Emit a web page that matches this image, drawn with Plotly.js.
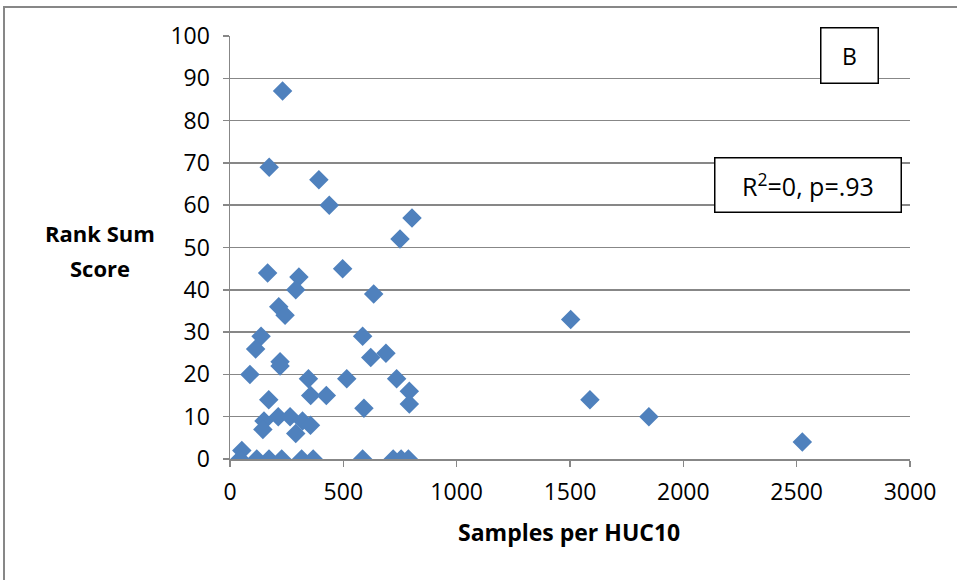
<!DOCTYPE html>
<html>
<head>
<meta charset="utf-8">
<script src="https://cdn.plot.ly/plotly-3.0.1.min.js"></script>
<style>html,body{margin:0;padding:0;background:#fff;}#chart{width:957px;height:580px;}</style>
</head>
<body>
<div id="chart"></div>
<script>
// Samples per HUC10 (x) and Rank Sum Score (y)
const samples = [232, 173, 392, 438, 803, 750, 166, 304, 497, 290, 634, 215, 243, 137, 113, 585, 621, 688, 221, 221, 88, 346, 515, 735, 791, 791, 356, 425, 171, 591,
  150, 213, 265, 320, 355, 145, 290,
  52, 44, 118, 172, 228, 316, 367, 585, 720, 755, 787,
  1503, 1588, 1848, 2525];
const scores = [87, 69, 66, 60, 57, 52, 44, 43, 45, 40, 39, 36, 34, 29, 26, 29, 24, 25, 23, 22, 20, 19, 19, 19, 16, 13, 15, 15, 14, 12,
  9, 10, 10, 9, 8, 7, 6,
  2, 0, 0, 0, 0, 0, 0, 0, 0, 0, 0,
  33, 14, 10, 4];
const xTicks = [0, 500, 1000, 1500, 2000, 2500, 3000];
const yTicks = [0, 10, 20, 30, 40, 50, 60, 70, 80, 90, 100];

const fontFam = '"Open Sans", "Noto Sans", sans-serif';
const grid = '#878787';

// pixel -> paper helpers for the plot area (x 230..910, y 36..459)
const px = v => (v - 230) / 680;
const py = v => (459 - v) / 423;

const trace = {
  x: samples, y: scores, type: 'scatter', mode: 'markers',
  marker: {symbol: 'diamond', size: 15, color: '#4F81BD', line: {width: 0}},
  hoverinfo: 'x+y'
};

const layout = {
  width: 957, height: 580,
  margin: {l: 230, r: 47, t: 36, b: 121},
  paper_bgcolor: '#fff', plot_bgcolor: '#fff',
  showlegend: false,
  font: {family: fontFam, size: 23, color: '#000'},
  xaxis: {
    range: [0, 3000], tickvals: xTicks, ticktext: xTicks.map(String),
    showgrid: false, zeroline: false, showline: true, linecolor: grid, linewidth: 1.5,
    ticks: 'outside', ticklen: 6, tickcolor: grid, tickwidth: 1.5,
    ticklabelstandoff: 6,
    tickfont: {family: fontFam, size: 23, color: '#000'}
  },
  yaxis: {
    range: [0, 100], tickvals: yTicks, ticktext: yTicks.map(String),
    showgrid: true, gridcolor: grid, gridwidth: 1.5, zeroline: false,
    showline: true, linecolor: grid, linewidth: 1.5,
    ticks: 'outside', ticklen: 6, tickcolor: grid, tickwidth: 1.5,
    ticklabelstandoff: 8,
    tickfont: {family: fontFam, size: 23, color: '#000'}
  },
  shapes: [
    {type: 'path', xref: 'paper', yref: 'paper', layer: 'below',
     path: `M ${px(4)} ${py(600)} L ${px(4)} ${py(7)} L ${px(980)} ${py(7)}`,
     line: {color: grid, width: 2}}
  ],
  annotations: [
    {xref: 'paper', yref: 'paper', x: px(569), y: py(532), xanchor: 'center', yanchor: 'middle',
     text: '<b>Samples per HUC10</b>', showarrow: false,
     font: {family: fontFam, size: 23, color: '#000'}},
    {xref: 'paper', yref: 'paper', x: px(100), y: py(233), xanchor: 'center', yanchor: 'middle',
     text: '<b>Rank Sum</b>', showarrow: false,
     font: {family: fontFam, size: 22, color: '#000'}},
    {xref: 'paper', yref: 'paper', x: px(100), y: py(268), xanchor: 'center', yanchor: 'middle',
     text: '<b>Score</b>', showarrow: false,
     font: {family: fontFam, size: 22, color: '#000'}},
    {xref: 'paper', yref: 'paper', x: px(849), y: py(56), xanchor: 'center', yanchor: 'middle',
     text: 'B', showarrow: false, width: 56, height: 54, bgcolor: '#fff',
     bordercolor: '#000', borderwidth: 1.5, borderpad: 0,
     font: {family: fontFam, size: 23, color: '#000'}},
    {xref: 'paper', yref: 'paper', x: px(808), y: py(185), xanchor: 'center', yanchor: 'middle',
     text: 'R<sup>2</sup>=0, p=.93', showarrow: false, width: 185, height: 53, bgcolor: '#fff',
     bordercolor: '#000', borderwidth: 1.5, borderpad: 0,
     font: {family: fontFam, size: 25, color: '#000'}}
  ]
};

Plotly.newPlot('chart', [trace], layout, {displayModeBar: false, staticPlot: true});
</script>
</body>
</html>
